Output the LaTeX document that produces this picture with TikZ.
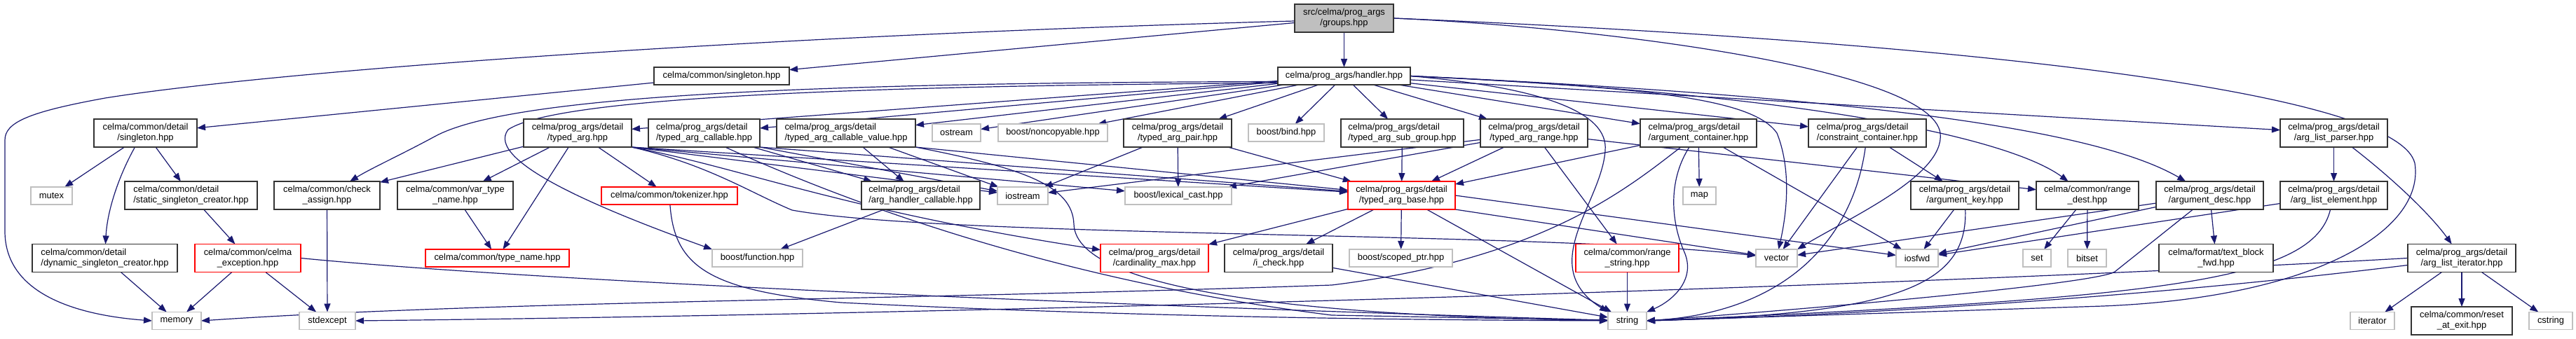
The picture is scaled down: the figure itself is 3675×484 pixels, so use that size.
\documentclass[tikz,border=0pt]{standalone}
\usepackage{fontspec}
\setmainfont{Liberation Sans}
\usetikzlibrary{arrows.meta,backgrounds}
\definecolor{edgec}{RGB}{25,25,112}
\definecolor{grayb}{RGB}{191,191,191}
\begin{document}
\begin{tikzpicture}[x=1pt,y=-1pt,
  nb/.style={rectangle, inner sep=0pt, outer sep=0pt, fill=white, font=\fontsize{12.9pt}{15pt}\selectfont, align=center},
  blk/.style={nb, draw=black!80, line width=1.4pt},
  gry/.style={nb, draw=grayb, line width=1.4pt, minimum height=25pt},
  rd/.style={nb, draw=red, line width=1.4pt},
  rootn/.style={nb, draw=black!80, fill=grayb, line width=1.4pt},
  one/.style={minimum height=25pt},
  two/.style={minimum height=40pt},
  lft/.style={align=left},
  e/.style={draw=edgec, line width=1.2pt, -{Triangle[length=12pt,width=9pt]}}]
\useasboundingbox (0,0) rectangle (3675,484);
% row 0-1
\node[rootn,two,minimum width=141pt] (groups) at (1917.5,26) {src/celma/prog\_args\\/groups.hpp};
\node[blk,one,minimum width=189pt] (handler) at (1917.5,108.5) {celma/prog\_args/handler.hpp};
\node[blk,one,minimum width=193pt] (singleton) at (1029.5,108.5) {celma/common/singleton.hpp};
% row 2
\node[blk,two,minimum width=147pt] (dsingleton) at (207.5,190) {celma/common/detail\\/singleton.hpp};
\node[blk,two,minimum width=154pt] (typedarg) at (824,190) {celma/prog\_args/detail\\/typed\_arg.hpp};
\node[blk,two,lft,minimum width=159pt] (tacallable) at (1004.5,190) {celma/prog\_args/detail\\/typed\_arg\_callable.hpp};
\node[blk,two,lft,minimum width=198pt] (tacv) at (1207,190) {celma/prog\_args/detail\\/typed\_arg\_callable\_value.hpp};
\node[gry,minimum width=69pt] (ostream) at (1364.5,189.5) {ostream};
\node[gry,minimum width=156pt] (noncopyable) at (1502,189.5) {boost/noncopyable.hpp};
\node[blk,two,minimum width=154pt] (tapair) at (1680,190) {celma/prog\_args/detail\\/typed\_arg\_pair.hpp};
\node[gry,minimum width=108pt] (bind) at (1835,189.5) {boost/bind.hpp};
\node[blk,two,lft,minimum width=175pt] (tasubgroup) at (2000.5,190) {celma/prog\_args/detail\\/typed\_arg\_sub\_group.hpp};
\node[blk,two,minimum width=153pt] (tarange) at (2188.5,190) {celma/prog\_args/detail\\/typed\_arg\_range.hpp};
\node[blk,two,lft,minimum width=166pt] (argcontainer) at (2423,190) {celma/prog\_args/detail\\/argument\_container.hpp};
\node[blk,two,lft,minimum width=168pt] (constraint) at (2664,190) {celma/prog\_args/detail\\/constraint\_container.hpp};
\node[blk,two,minimum width=153pt] (alparser) at (3329.5,190) {celma/prog\_args/detail\\/arg\_list\_parser.hpp};
% row 3
\node[gry,minimum width=59pt] (mutex) at (73.5,279.5) {mutex};
\node[blk,two,lft,minimum width=189pt] (ssc) at (272.5,279) {celma/common/detail\\/static\_singleton\_creator.hpp};
\node[blk,two,minimum width=151pt] (checkassign) at (466.5,279) {celma/common/check\\\_assign.hpp};
\node[blk,two,minimum width=165pt] (vartypename) at (649.5,279) {celma/common/var\_type\\\_name.hpp};
\node[rd,one,minimum width=194pt] (tokenizer) at (955,279.5) {celma/common/tokenizer.hpp};
\node[blk,two,lft,minimum width=169pt] (ahcallable) at (1313.5,279) {celma/prog\_args/detail\\/arg\_handler\_callable.hpp};
\node[gry,minimum width=72pt] (iostream) at (1459,279.5) {iostream};
\node[gry,minimum width=152pt] (lexcast) at (1681,279.5) {boost/lexical\_cast.hpp};
\node[rd,two,minimum width=153pt] (tabase) at (1999.5,279) {celma/prog\_args/detail\\/typed\_arg\_base.hpp};
\node[gry,minimum width=47pt] (map) at (2424.5,279.5) {map};
\node[blk,two,minimum width=154pt] (argkey) at (2803,279) {celma/prog\_args/detail\\/argument\_key.hpp};
\node[blk,two,minimum width=146pt] (rangedest) at (2978,279) {celma/common/range\\\_dest.hpp};
\node[blk,two,minimum width=153pt] (argdesc) at (3152.5,279) {celma/prog\_args/detail\\/argument\_desc.hpp};
\node[blk,two,minimum width=153pt] (alelement) at (3329.5,279) {celma/prog\_args/detail\\/arg\_list\_element.hpp};
% row 4
\node[blk,two,lft,minimum width=207pt] (dsc) at (149.5,368.5) {celma/common/detail\\/dynamic\_singleton\_creator.hpp};
\node[rd,two,minimum width=151pt] (celmaexc) at (353.5,368.5) {celma/common/celma\\\_exception.hpp};
\node[rd,one,minimum width=205pt] (typename) at (709.5,368.5) {celma/common/type\_name.hpp};
\node[gry,minimum width=129pt] (function) at (1080.5,368.5) {boost/function.hpp};
\node[rd,two,minimum width=154pt] (cardmax) at (1647,368.5) {celma/prog\_args/detail\\/cardinality\_max.hpp};
\node[blk,two,minimum width=154pt] (icheck) at (1824,368.5) {celma/prog\_args/detail\\/i\_check.hpp};
\node[gry,minimum width=147pt] (scopedptr) at (1998.5,368.5) {boost/scoped\_ptr.hpp};
\node[rd,two,minimum width=147pt] (rangestring) at (2321.5,368.5) {celma/common/range\\\_string.hpp};
\node[gry,minimum width=59pt] (vector) at (2534.5,368.5) {vector};
\node[gry,minimum width=60pt] (iosfwd) at (2735,368.5) {iosfwd};
\node[gry,minimum width=40pt] (set) at (2906,368.5) {set};
\node[gry,minimum width=55pt] (bitset) at (2977.5,368.5) {bitset};
\node[blk,two,minimum width=163pt] (textblock) at (3161.5,368.5) {celma/format/text\_block\\\_fwd.hpp};
\node[blk,two,minimum width=154pt] (aliterator) at (3512,368.5) {celma/prog\_args/detail\\/arg\_list\_iterator.hpp};
% row 5
\node[gry,minimum width=70pt] (memory) at (252,458) {memory};
\node[gry,minimum width=80pt] (stdexcept) at (467,458) {stdexcept};
\node[gry,minimum width=55pt] (string) at (2321.5,458) {string};
\node[gry,minimum width=63pt] (iterator) at (3384.5,458) {iterator};
\node[blk,two,minimum width=144pt] (resetexit) at (3512,458) {celma/common/reset\\\_at\_exit.hpp};
\node[gry,minimum width=62pt] (cstring) at (3639,458) {cstring};

\begin{pgfonlayer}{background}
\fill[white] (0,0) rectangle (3675,484);
% groups
\draw[e] (groups) -- (handler);
\draw[e] (groups) -- (singleton);
\draw[e] ([yshift=-4pt]groups.west) .. controls (1100,50) and (400,100) .. (150,140) .. controls (40,160) and (7,175) .. (7,200) -- (7,330) .. controls (7,420) and (110,450) .. (memory.west);
\draw[e] (groups.east) .. controls (2300,40) and (2755,100) .. (2768,190) .. controls (2775,250) and (2640,310) .. (vector.north east);
\draw[e] (groups.east) .. controls (2800,60) and (3420,130) .. (3445,233) .. controls (3460,330) and (3300,425) .. (3000,437) -- (string.east);
% handler
\draw[e] (handler) -- (typedarg);
\draw[e] (handler) -- (tacallable);
\draw[e] (handler) -- (tacv);
\draw[e] (handler) -- (ostream);
\draw[e] (handler) -- (noncopyable);
\draw[e] (handler) -- (tapair);
\draw[e] (handler) -- (bind);
\draw[e] (handler) -- (tasubgroup);
\draw[e] (handler) -- (tarange);
\draw[e] (handler) -- (argcontainer);
\draw[e] (handler) -- (constraint);
\draw[e] (handler) -- (alparser);
\draw[e] (handler.east) .. controls (2600,135) and (2870,200) .. (rangedest);
\draw[e] (handler.east) .. controls (2700,140) and (3000,190) .. (argdesc);
\draw[e] (handler.east) .. controls (2350,125) and (2500,140) .. (2535,190) .. controls (2555,240) and (2550,300) .. (vector);
\draw[e] (handler.east) .. controls (2200,125) and (2295,160) .. (2290,215) .. controls (2285,290) and (2190,380) .. (string.north west);
\draw[e] ([yshift=-8pt]handler.west) .. controls (1100,118) and (720,140) .. (620,195) .. controls (570,222) and (530,240) .. (checkassign);
\draw[e] ([yshift=-10pt]handler.west) .. controls (1300,122) and (800,135) .. (725,185) .. controls (690,230) and (860,300) .. (function.north west);
% left cluster
\draw[e] (singleton) -- (dsingleton);
\draw[e] (dsingleton) -- (mutex);
\draw[e] (dsingleton) -- (ssc);
\draw[e] ([xshift=-15pt]dsingleton.south) .. controls (170,250) and (153,300) .. (dsc);
\draw[e] (ssc) -- (celmaexc);
\draw[e] (celmaexc) -- (memory);
\draw[e] (celmaexc) -- (stdexcept);
\draw[e] (celmaexc.east) .. controls (800,405) and (1700,440) .. (string);
\draw[e] (dsc) -- (memory);
\draw[e] (checkassign) -- (stdexcept);
% typed_arg
\draw[e] (typedarg) -- (checkassign);
\draw[e] (typedarg) -- (vartypename);
\draw[e] (typedarg) -- (typename);
\draw[e] (typedarg) -- (tokenizer);
\draw[e] (typedarg.south east) -- (iostream);
\draw[e] (typedarg.south east) -- (lexcast);
\draw[e] (typedarg.south east) -- (tabase);
\draw[e] (typedarg.south east) .. controls (1010,235) and (1070,275) .. (1130,300) .. controls (1350,340) and (2200,330) .. (vector);
\draw[e] (typedarg.south east) .. controls (1060,240) and (1200,300) .. (cardmax);
\draw[e] (vartypename) -- (typename);
\draw[e] (tokenizer) .. controls (962,380) and (1010,415) .. (1200,432) .. controls (1600,452) and (2000,457) .. (string);
% typed_arg_callable
\draw[e] (tacallable) -- (ahcallable);
\draw[e] (tacallable.south east) -- (iostream);
\draw[e] (tacallable.south east) -- (tabase);
\draw[e] ([xshift=30pt]tacallable.south) .. controls (1200,285) and (1500,400) .. (1900,450) -- (string);
% typed_arg_callable_value
\draw[e] (tacv) -- (ahcallable);
\draw[e] ([xshift=60pt]tacv.south) -- (iostream);
\draw[e] (tacv.south east) -- (tabase);
\draw[e] (tacv.south east) .. controls (1460,240) and (1530,265) .. (1532,320) .. controls (1535,420) and (1900,452) .. (string);
\draw[e] (ahcallable) -- (function);
% pair, sub group, range
\draw[e] (tapair) -- (iostream);
\draw[e] (tapair) -- (lexcast);
\draw[e] (tapair) -- (tabase);
\draw[e] (tasubgroup) -- (tabase);
\draw[e] (tarange) -- (tabase);
\draw[e] (tarange) -- (iostream);
\draw[e] (tarange) -- (lexcast);
\draw[e] (tarange) -- (rangestring);
\draw[e] (tarange) -- (rangedest);
% argument_container
\draw[e] (argcontainer) -- (tabase);
\draw[e] (argcontainer) -- (map);
\draw[e] (argcontainer) -- (iosfwd);
\draw[e] ([xshift=-13pt]argcontainer.south) .. controls (2378,260) and (2385,320) .. (2403,360) .. controls (2420,400) and (2385,430) .. (string.north east);
\draw[e] ([xshift=-25pt]argcontainer.south) .. controls (2320,270) and (2200,370) .. (1900,407) .. controls (1300,428) and (700,430) .. (memory.east);
% constraint, key, range dest, desc
\draw[e] (constraint) -- (vector);
\draw[e] (constraint) -- (argkey);
\draw[e] (constraint) .. controls (2645,330) and (2560,445) .. (string.east);
\draw[e] (argkey) -- (iosfwd);
\draw[e] (argkey) .. controls (2808,410) and (2700,448) .. (string.east);
\draw[e] (rangedest) -- (set);
\draw[e] (rangedest) -- (bitset);
\draw[e] (argdesc) -- (vector);
\draw[e] (argdesc) -- (iosfwd);
\draw[e] (argdesc) -- (textblock);
\draw[e] ([xshift=-24pt]argdesc.south) -- (3017,388) .. controls (2990,405) and (2600,440) .. (string.east);
% arg list
\draw[e] (alparser) -- (alelement);
\draw[e] (alparser) .. controls (3420,260) and (3470,310) .. (aliterator);
\draw[e] (alelement) -- (iosfwd);
\draw[e] (alelement) .. controls (3300,400) and (3100,425) .. (string.east);
\draw[e] (aliterator) -- (iterator);
\draw[e] (aliterator) -- (resetexit);
\draw[e] (aliterator) -- (cstring);
\draw[e] (aliterator.west) .. controls (2800,405) and (1500,447) .. (stdexcept.east);
\draw[e] ([yshift=-10pt]aliterator.west) .. controls (3100,420) and (2700,448) .. (string.east);
% typed_arg_base
\draw[e] (tabase) -- (cardmax);
\draw[e] (tabase) -- (icheck);
\draw[e] (tabase) -- (scopedptr);
\draw[e] (tabase) -- (string);
\draw[e] (tabase.east) -- (iosfwd);
\draw[e] (tabase.south east) -- (vector);
\draw[e] (icheck) -- (string);
\draw[e] (rangestring) -- (string);
\end{pgfonlayer}
\end{tikzpicture}
\end{document}
